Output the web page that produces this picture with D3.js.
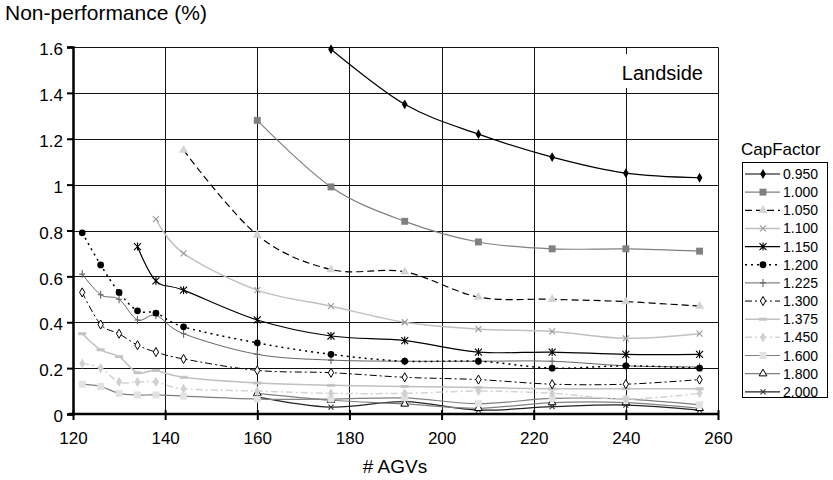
<!DOCTYPE html>
<html>
<head>
<meta charset="utf-8">
<script src="https://cdn.jsdelivr.net/npm/d3@7"></script>
<style>
  body { margin: 0; background: #fff; }
  svg { display: block; }
  text { font-family: "Liberation Sans", Arial, Helvetica, sans-serif; fill: #000; }
</style>
</head>
<body>
<svg id="chart" width="833" height="480"></svg>
<script>
// Number of AGVs at which each run was evaluated
const agvCounts = [122, 126, 130, 134, 138, 144, 160, 176, 192, 208, 224, 240, 256];

// Non-performance (%) per capacity factor, aligned with agvCounts (null = not run)
const cap0950 = [null, null, null, null, null, null, null, 1.59, 1.35, 1.22, 1.12, 1.05, 1.03];
const cap1000 = [null, null, null, null, null, null, 1.28, 0.99, 0.84, 0.75, 0.72, 0.72, 0.71];
const cap1050 = [null, null, null, null, null, 1.15, 0.78, 0.63, 0.62, 0.51, 0.50, 0.49, 0.47];
const cap1100 = [null, null, null, null, 0.85, 0.70, 0.54, 0.47, 0.40, 0.37, 0.36, 0.33, 0.35];
const cap1150 = [null, null, null, 0.73, 0.58, 0.54, 0.41, 0.34, 0.32, 0.27, 0.27, 0.26, 0.26];
const cap1200 = [0.79, 0.65, 0.53, 0.45, 0.44, 0.38, 0.31, 0.26, 0.23, 0.23, 0.20, 0.21, 0.20];
const cap1225 = [0.61, 0.52, 0.50, 0.41, 0.43, 0.35, 0.26, 0.235, 0.23, 0.23, 0.23, 0.21, 0.205];
const cap1300 = [0.53, 0.39, 0.35, 0.30, 0.27, 0.24, 0.19, 0.18, 0.16, 0.15, 0.13, 0.13, 0.15];
const cap1375 = [0.35, 0.28, 0.25, 0.18, 0.19, 0.16, 0.135, 0.125, 0.12, 0.115, 0.11, 0.11, 0.11];
const cap1450 = [0.22, 0.20, 0.14, 0.14, 0.14, 0.11, 0.10, 0.09, 0.09, 0.10, 0.09, 0.065, 0.09];
const cap1600 = [0.13, 0.12, 0.09, 0.083, 0.083, 0.078, 0.065, 0.065, 0.07, 0.045, 0.068, 0.065, 0.04];
const cap1800 = [null, null, null, null, null, null, 0.09, 0.06, 0.044, 0.025, 0.05, 0.05, 0.025];
const cap2000 = [null, null, null, null, null, null, 0.075, 0.03, 0.054, 0.017, 0.032, 0.039, 0.017];

const capFactors = ["0.950", "1.000", "1.050", "1.100", "1.150", "1.200", "1.225",
                    "1.300", "1.375", "1.450", "1.600", "1.800", "2.000"];
const seriesValues = [cap0950, cap1000, cap1050, cap1100, cap1150, cap1200, cap1225,
                      cap1300, cap1375, cap1450, cap1600, cap1800, cap2000];

const xTicks = [120, 140, 160, 180, 200, 220, 240, 260];
const yTicks = [0, 0.2, 0.4, 0.6, 0.8, 1, 1.2, 1.4, 1.6];

// Line and marker look for each capacity factor
const styles = {
  "0.950": { stroke: "#000", width: 1.2, dash: null, marker: "diamond", fill: "#000", mstroke: "none", size: 28 },
  "1.000": { stroke: "#808080", width: 1.2, dash: null, marker: "square", fill: "#808080", mstroke: "none", size: 48 },
  "1.050": { stroke: "#000", width: 1.2, dash: "7,4", marker: "triangle", fill: "#d4d4d4", mstroke: "none", size: 36 },
  "1.100": { stroke: "#c0c0c0", width: 1.5, dash: null, marker: "x", fill: "none", mstroke: "#999", size: 3 },
  "1.150": { stroke: "#000", width: 1.2, dash: null, marker: "asterisk", fill: "none", mstroke: "#000", size: 3.5 },
  "1.200": { stroke: "#000", width: 1.5, dash: "2,4", marker: "circle", fill: "#000", mstroke: "none", size: 36 },
  "1.225": { stroke: "#666", width: 1, dash: null, marker: "plus", fill: "none", mstroke: "#666", size: 4 },
  "1.300": { stroke: "#000", width: 1, dash: "7,3,2,3", marker: "diamond", fill: "#fff", mstroke: "#000", size: 24 },
  "1.375": { stroke: "#c0c0c0", width: 1.5, dash: null, marker: "bar", fill: "none", mstroke: "#c4c4c4", size: 4 },
  "1.450": { stroke: "#d4d4d4", width: 1.5, dash: "7,3,2,3", marker: "diamond", fill: "#d0d0d0", mstroke: "none", size: 30 },
  "1.600": { stroke: "#808080", width: 1.2, dash: null, marker: "square", fill: "#e2e2e2", mstroke: "none", size: 48 },
  "1.800": { stroke: "#808080", width: 1.2, dash: null, marker: "triangle", fill: "#fff", mstroke: "#000", size: 26 },
  "2.000": { stroke: "#222", width: 1.2, dash: null, marker: "x", fill: "none", mstroke: "#333", size: 2.5 }
};

const svg = d3.select("#chart");
const x = d3.scaleLinear().domain([120, 260]).range([73, 718]);
const y = d3.scaleLinear().domain([0, 1.6]).range([414, 47]);
const crisp = v => Math.round(v) + 0.5;

// Grid
const grid = svg.append("g");
grid.selectAll("line.h").data(yTicks.filter(d => d > 0)).join("line")
  .attr("x1", x(120)).attr("x2", crisp(x(260)))
  .attr("y1", d => crisp(y(d))).attr("y2", d => crisp(y(d)))
  .attr("stroke", "#111").attr("stroke-width", 1);
grid.selectAll("line.v").data(xTicks.filter(d => d > 120)).join("line")
  .attr("x1", d => crisp(x(d))).attr("x2", d => crisp(x(d)))
  .attr("y1", crisp(y(1.6))).attr("y2", y(0))
  .attr("stroke", "#111").attr("stroke-width", 1);

// Panel label with its own white backing
svg.append("rect").attr("x", 612).attr("y", 54).attr("width", 105).attr("height", 34).attr("fill", "#fff");
svg.append("text").attr("x", 703).attr("y", 80).attr("text-anchor", "end")
  .attr("font-size", 20).text("Landside");

// Marker path builder
function markerPath(type, size) {
  switch (type) {
    case "diamond": return d3.symbol(d3.symbolDiamond, size)();
    case "square": return d3.symbol(d3.symbolSquare, size)();
    case "triangle": return d3.symbol(d3.symbolTriangle, size)();
    case "circle": return d3.symbol(d3.symbolCircle, size)();
    case "x": return `M${-size},${-size}L${size},${size}M${-size},${size}L${size},${-size}`;
    case "asterisk": return `M${-size},${-size}L${size},${size}M${-size},${size}L${size},${-size}M0,${-size - 0.5}L0,${size + 0.5}`;
    case "plus": return `M${-size + 1},0L${size - 1},0M0,${-size}L0,${size}`;
    case "bar": return `M${-size},0L${size},0`;
  }
}
function styleMarker(sel, st) {
  const stroked = ["x", "asterisk", "plus", "bar"].includes(st.marker);
  sel.attr("d", markerPath(st.marker, st.size))
    .attr("fill", stroked ? "none" : st.fill)
    .attr("stroke", st.mstroke)
    .attr("stroke-width", st.marker === "bar" ? 3 : (stroked ? 1.1 : 1));
}

const line = d3.line()
  .defined(d => d.v !== null)
  .x(d => x(d.n))
  .y(d => y(d.v))
  .curve(d3.curveCatmullRom.alpha(0));

const plot = svg.append("g");
// Draw from the last series to the first so the high curves sit on top
capFactors.map((c, i) => i).reverse().forEach(i => {
  const cap = capFactors[i];
  const st = styles[cap];
  const pts = agvCounts.map((n, k) => ({ n, v: seriesValues[i][k] }));
  const g = plot.append("g");
  g.append("path").datum(pts.filter(p => p.v !== null))
    .attr("d", line)
    .attr("fill", "none")
    .attr("stroke", st.stroke)
    .attr("stroke-width", st.width)
    .attr("stroke-dasharray", st.dash);
  g.selectAll("path.m").data(pts.filter(p => p.v !== null)).join("path")
    .attr("class", "m")
    .attr("transform", d => `translate(${x(d.n)},${y(d.v)})`)
    .call(styleMarker, st);
});

// Axes
const yAxis = svg.append("g").attr("transform", `translate(${x(120)},0)`)
  .call(d3.axisLeft(y).tickValues(yTicks).tickSize(6).tickPadding(4)
    .tickFormat(d => String(+d.toFixed(1))));
yAxis.select(".domain").attr("stroke", "#000").attr("stroke-width", 2.5);
yAxis.selectAll(".tick line").attr("stroke", "#000").attr("stroke-width", 2);
yAxis.selectAll(".tick text").attr("font-size", 17).attr("font-family", null).attr("dy", "0.45em");

const xAxis = svg.append("g").attr("transform", `translate(0,${y(0)})`)
  .call(d3.axisBottom(x).tickValues(xTicks).tickSize(6).tickPadding(12));
xAxis.select(".domain").attr("stroke", "#000").attr("stroke-width", 2.5);
xAxis.selectAll(".tick line").attr("stroke", "#000").attr("stroke-width", 2).attr("y1", -4).attr("y2", 6);
xAxis.selectAll(".tick text").attr("font-size", 17).attr("font-family", null);
xAxis.select(".domain").attr("d", `M${x(120) - 4},0H${x(260)}`);

// Titles
svg.append("text").attr("x", 5).attr("y", 20).attr("font-size", 21).text("Non-performance (%)");
svg.append("text").attr("x", 395).attr("y", 473).attr("text-anchor", "middle").attr("font-size", 19).text("# AGVs");

// Legend
const lg = svg.append("g");
lg.append("text").attr("x", 741).attr("y", 155).attr("font-size", 17).text("CapFactor");
lg.append("rect").attr("x", 742.5).attr("y", 162.5).attr("width", 85).attr("height", 235)
  .attr("fill", "#fff").attr("stroke", "#000").attr("stroke-width", 1);
capFactors.forEach((cap, i) => {
  const st = styles[cap];
  const cy = 174 + i * 18.15;
  const row = lg.append("g").attr("transform", `translate(0,${cy})`);
  row.append("line").attr("x1", 745).attr("x2", 780).attr("y1", 0).attr("y2", 0)
    .attr("stroke", st.stroke).attr("stroke-width", st.width).attr("stroke-dasharray", st.dash);
  row.append("path").attr("transform", "translate(763,0)").call(styleMarker, st);
  row.append("text").attr("x", 783).attr("y", 0).attr("dy", "0.36em").attr("font-size", 14).text(cap);
});
</script>
</body>
</html>
